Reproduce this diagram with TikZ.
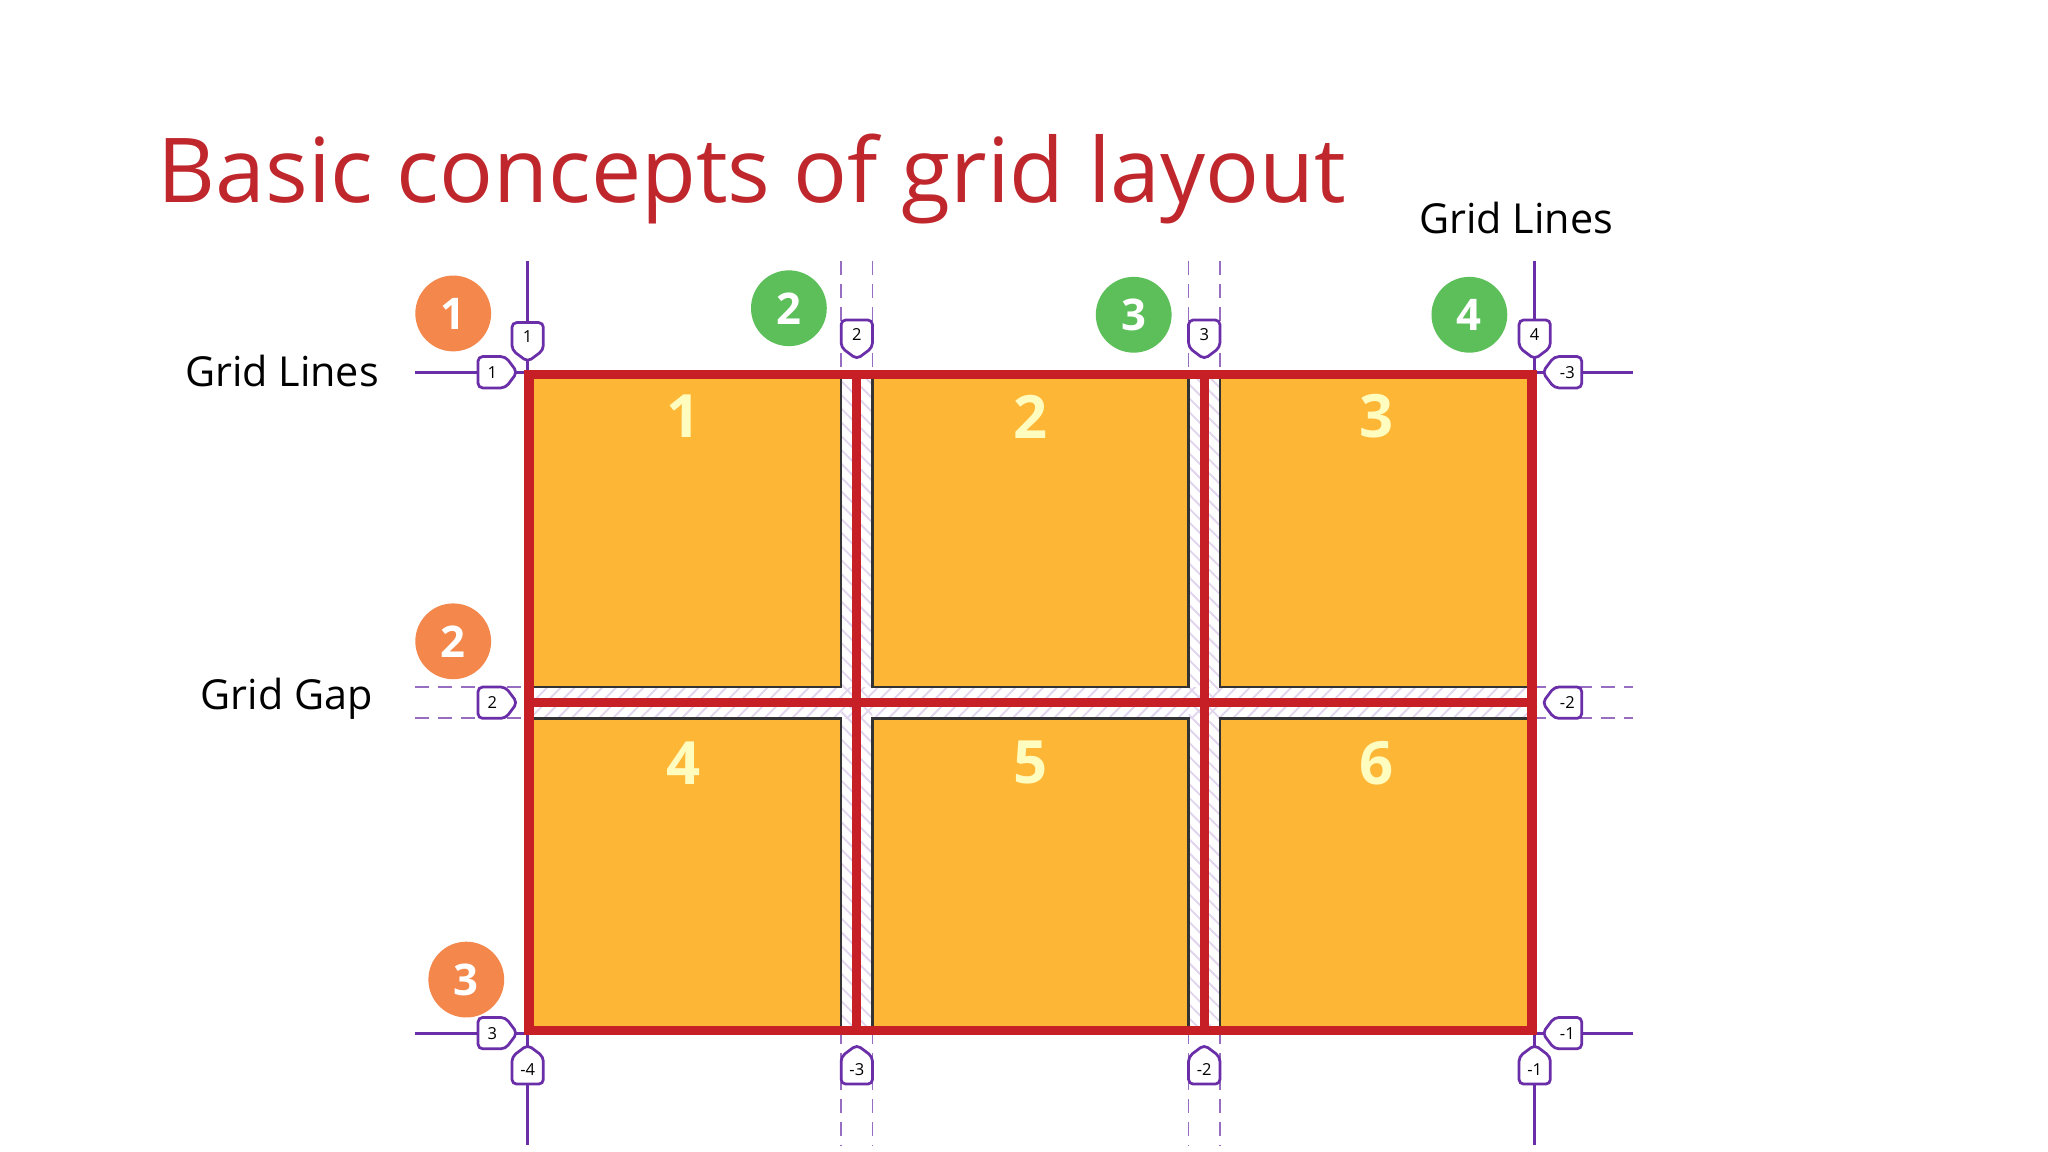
\documentclass[tikz,border=0pt]{standalone}
\usepackage{fontspec}
\setmainfont{Open Sans}
\usetikzlibrary{patterns}
\definecolor{tred}{HTML}{C0272D}
\definecolor{gred}{HTML}{C62026}
\definecolor{cell}{HTML}{FDB636}
\definecolor{oc}{HTML}{F4874B}
\definecolor{gc}{HTML}{5CBF5A}
\definecolor{pu}{HTML}{6A2FA8}
\begin{document}
\begin{tikzpicture}[x=0.01cm,y=-0.01cm,
  lbl/.style={font=\fontsize{9pt}{11pt}\selectfont,anchor=west,inner sep=0},
  cnum/.style={font=\fontsize{13pt}{15pt}\selectfont\bfseries,text=yellow!25},
  circ/.style={circle,minimum size=0.58cm,inner sep=0,text=white,font=\fontsize{9.5pt}{11pt}\selectfont\bfseries},
  pl/.style={pu,line width=0.6pt},
  dl/.style={pu!70,line width=0.4pt,dash pattern=on 3pt off 2pt},
  tagt/.style={font=\fontsize{3.6pt}{4pt}\selectfont,inner sep=0}]
\useasboundingbox (0,0) rectangle (1568,882);
\fill[white] (0,0) rectangle (1568,882);
\node[anchor=base west,text=tred,font=\fontsize{19.5pt}{23pt}\selectfont,inner sep=0] (title) at (120,155) {Basic concepts of grid layout};
\node[lbl] (gl1) at (141,284) {Grid Lines};
\node[lbl] (gg) at (153,535) {Grid Gap};
\node[lbl] (gl2) at (1086,167) {Grid Lines};
% guide lines
\draw[pl] (404,200) -- (404,287) (404,789) -- (404,877);
\draw[pl] (1175,200) -- (1175,287) (1175,789) -- (1175,877);
\draw[pl] (318,285) -- (405,285) (318,791) -- (405,791);
\draw[pl] (1175,285) -- (1250,285) (1175,791) -- (1250,791);
\foreach \x in {644,668,910,934} {\draw[dl] (\x,200) -- (\x,287) (\x,789) -- (\x,877);}
\foreach \y in {526,550} {\draw[dl] (318,\y) -- (405,\y) (1173,\y) -- (1250,\y);}
% gaps
\fill[white] (405,287) rectangle (1173,789);
\fill[pattern=north west lines,pattern color=pu!20] (644,287) rectangle (668,789);
\fill[pattern=north west lines,pattern color=pu!20] (910,287) rectangle (934,789);
\fill[pattern=north east lines,pattern color=pu!20] (405,526) rectangle (1173,550);
% cells
\foreach \xa/\xb in {405/644,668/910,934/1173} {
  \draw[fill=cell,draw=black!80,line width=0.5pt] (\xa,287) rectangle (\xb,526);
  \draw[fill=cell,draw=black!80,line width=0.5pt] (\xa,550) rectangle (\xb,789);
}
\node[cnum] (c1) at (523,319) {1};
\node[cnum] (c2) at (789,319) {2};
\node[cnum] (c3) at (1054,319) {3};
\node[cnum] (c4) at (523,584) {4};
\node[cnum] (c5) at (789,584) {5};
\node[cnum] (c6) at (1054,584) {6};
% red grid lines
\draw[gred,line width=2pt] (405,287) rectangle (1173,789);
\draw[gred,line width=2pt] (656,287) -- (656,789) (922,287) -- (922,789) (405,538) -- (1173,538);
% circles
\node[circ,fill=oc] (o1) at (347,240) {1};
\node[circ,fill=oc] (o2) at (347,491) {2};
\node[circ,fill=oc] (o3) at (357,750) {3};
\node[circ,fill=gc] (g2) at (604,236) {2};
\node[circ,fill=gc] (g3) at (868,241) {3};
\node[circ,fill=gc] (g4) at (1125,241) {4};
% tags
\newcommand{\tagdown}[3]{\draw[pu,fill=white,line width=0.6pt,rounded corners=1pt] (#1-12,#2-14)--(#1+12,#2-14)--(#1+12,#2+7)--(#1,#2+16)--(#1-12,#2+7)--cycle; \node[tagt] at (#1,#2-3) {#3};}
\newcommand{\tagup}[3]{\draw[pu,fill=white,line width=0.6pt,rounded corners=1pt] (#1-12,#2+14)--(#1+12,#2+14)--(#1+12,#2-7)--(#1,#2-16)--(#1-12,#2-7)--cycle; \node[tagt] at (#1,#2+3) {#3};}
\newcommand{\tagright}[3]{\draw[pu,fill=white,line width=0.6pt,rounded corners=1pt] (#1-14,#2-12)--(#1+7,#2-12)--(#1+16,#2)--(#1+7,#2+12)--(#1-14,#2+12)--cycle; \node[tagt] at (#1-3,#2) {#3};}
\newcommand{\tagleft}[3]{\draw[pu,fill=white,line width=0.6pt,rounded corners=1pt] (#1+14,#2-12)--(#1-7,#2-12)--(#1-16,#2)--(#1-7,#2+12)--(#1+14,#2+12)--cycle; \node[tagt] at (#1+3,#2) {#3};}
\tagdown{404}{261}{1}
\tagdown{656}{259}{2}
\tagdown{922}{259}{3}
\tagdown{1175}{259}{4}
\tagright{380}{285}{1}
\tagright{380}{538}{2}
\tagright{380}{791}{3}
\tagleft{1197}{285}{-3}
\tagleft{1197}{538}{-2}
\tagleft{1197}{791}{-1}
\tagup{404}{816}{-4}
\tagup{656}{816}{-3}
\tagup{922}{816}{-2}
\tagup{1175}{816}{-1}
\end{tikzpicture}
\end{document}
